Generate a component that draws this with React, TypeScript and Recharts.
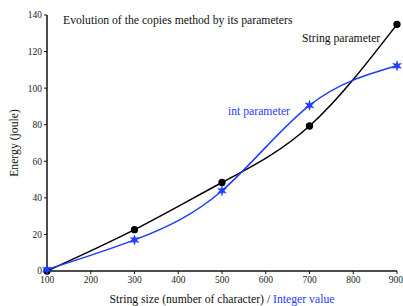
import { Label, Line, LineChart, XAxis, YAxis } from 'recharts'

const sizes = [100, 300, 500, 700, 900]
const stringEnergy = [0, 22.6, 48.4, 79.3, 134.9]
const intEnergy = [0.8, 17, 43.9, 90.6, 112.2]
const xTicks = [100, 200, 300, 400, 500, 600, 700, 800, 900]
const yTicks = [0, 20, 40, 60, 80, 100, 120, 140]

const BLUE = '#1f3cff'
const FONT = 'Liberation Serif'

const data = sizes.map((s, i) => ({ size: s, str: stringEnergy[i], int: intEnergy[i] }))

function Star(props: any) {
  const { cx, cy } = props
  if (cx == null || cy == null) return null
  const pts: string[] = []
  for (let k = 0; k < 12; k++) {
    const r = k % 2 === 0 ? 5 : 2.1
    const a = (Math.PI / 6) * k - Math.PI / 2
    pts.push(`${cx + r * Math.cos(a)},${cy + r * Math.sin(a)}`)
  }
  return <polygon points={pts.join(' ')} fill={BLUE} stroke={BLUE} strokeWidth={0.5} />
}

function XLabel(props: any) {
  const { viewBox } = props
  const cx = viewBox.x + viewBox.width / 2
  return (
    <text x={cx} y={303} textAnchor="middle" style={{ fontFamily: FONT, fontSize: 11.7, fill: '#111' }}>
      <tspan>String size (number of character) / </tspan>
      <tspan style={{ fill: BLUE }}>Integer value</tspan>
    </text>
  )
}

const tickStyle = { fill: '#222', fontSize: 9.5, fontFamily: FONT }
const textStyle = { fontFamily: FONT, fontSize: 11.7, fill: '#111' }

export default function App() {
  return (
    <div style={{ position: 'absolute', left: 0, top: 0, background: '#fff' }}>
      <LineChart width={403} height={306} data={data} margin={{ top: 15, right: 6, bottom: 0, left: 0 }}>
        <XAxis
          dataKey="size"
          type="number"
          domain={[100, 900]}
          ticks={xTicks}
          height={35}
          axisLine={{ stroke: '#111', strokeWidth: 1.5 }}
          tickLine={{ stroke: '#111' }}
          tickSize={3}
          tick={tickStyle}
        >
          <Label content={<XLabel />} />
        </XAxis>
        <YAxis
          type="number"
          domain={[0, 140]}
          ticks={yTicks}
          width={47}
          axisLine={{ stroke: '#111', strokeWidth: 1.5 }}
          tickLine={{ stroke: '#111' }}
          tickSize={3}
          tick={tickStyle}
        >
          <Label
            value="Energy (joule)"
            angle={-90}
            position="insideLeft"
            offset={14}
            style={{ fontFamily: FONT, fontSize: 11.7, fill: '#111', textAnchor: 'middle' }}
          />
        </YAxis>
        <Line
          type="natural"
          dataKey="str"
          stroke="#000"
          strokeWidth={1.5}
          dot={{ r: 2.9, fill: '#000', stroke: '#000' }}
          isAnimationActive={false}
        />
        <Line
          type="natural"
          dataKey="int"
          stroke={BLUE}
          strokeWidth={1.5}
          dot={<Star />}
          isAnimationActive={false}
        />
        <text x={63} y={24} style={textStyle}>
          Evolution of the copies method by its parameters
        </text>
        <text x={302} y={42} style={textStyle}>
          String parameter
        </text>
        <text x={228} y={115} style={{ ...textStyle, fill: BLUE }}>
          int parameter
        </text>
      </LineChart>
    </div>
  )
}
